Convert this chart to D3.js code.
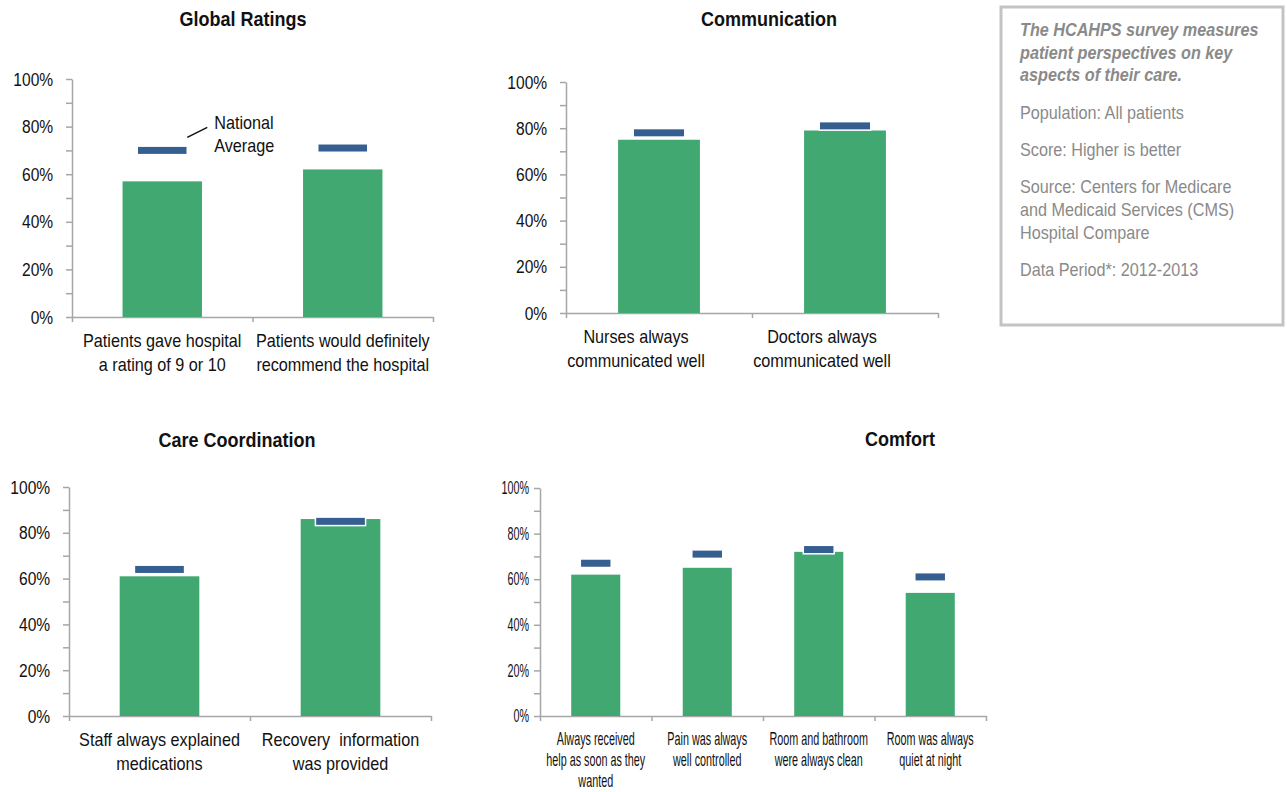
<!DOCTYPE html>
<html lang="en">
<head>
    <meta charset="UTF-8">
    <title>HCAHPS patient experience</title>
    <script src="https://d3js.org/d3.v7.min.js"></script>
    <style>
        body { margin: 0; background: #fff; }
        svg text { font-family: "Liberation Sans", Arial, sans-serif; }
        .axis path, .axis line { stroke: #a6a6a6; stroke-width: 1.5px; }
        .axis text { fill: #111; }
        .title { font-weight: bold; fill: #111; }
        .info { fill: #8a8a8a; }
    </style>
</head>
<body>
<svg id="chart" width="1287" height="792"></svg>
<script>
    // data (percent)
    const yTicks = [0, 10, 20, 30, 40, 50, 60, 70, 80, 90, 100];

    const globalCats = [["Patients gave hospital", "a rating of 9 or 10"], ["Patients would definitely", "recommend the hospital"]];
    const globalValues = [57, 62];
    const globalNational = [70, 71];

    const commCats = [["Nurses always", "communicated well"], ["Doctors always", "communicated well"]];
    const commValues = [75, 79];
    const commNational = [78, 81];

    const careCats = [["Staff always explained", "medications"], ["Recovery  information", "was provided"]];
    const careValues = [61, 86];
    const careNational = [64, 85];

    const comfortCats = [["Always received", "help as soon as they", "wanted"], ["Pain was always", "well controlled"],
        ["Room and bathroom", "were always clean"], ["Room was always", "quiet at night"]];
    const comfortValues = [62, 65, 72, 54];
    const comfortNational = [67, 71, 73, 61];

    const infoLines = [
        { t: "The HCAHPS survey measures", y: 36, em: true },
        { t: "patient perspectives on key", y: 59, em: true },
        { t: "aspects of their care.", y: 81, em: true },
        { t: "Population: All patients", y: 119 },
        { t: "Score: Higher is better", y: 156 },
        { t: "Source: Centers for Medicare", y: 193 },
        { t: "and Medicaid Services (CMS)", y: 216 },
        { t: "Hospital Compare", y: 239 },
        { t: "Data Period*: 2012-2013", y: 276 }
    ];

    const GREEN = "#41a872", BLUE = "#365f91";
    const svg = d3.select("#chart");

    // text squeezed horizontally like the source image
    function stext(parent, x, y, str, size, sx, anchor) {
        return parent.append("g")
            .attr("transform", `translate(${x},${y}) scale(${sx},1)`)
            .append("text")
            .attr("text-anchor", anchor || "middle")
            .style("font-size", size + "px")
            .style("white-space", "pre")
            .text(str);
    }

    function panel(cfg) {
        const g = svg.append("g");
        const n = cfg.cats.length;
        const y = d3.scaleLinear().domain([0, 100]).range([cfg.yBot, cfg.yTop]);
        const x = d3.scaleBand().domain(d3.range(n)).range([cfg.x0, cfg.x1])
            .paddingInner(0.56).paddingOuter(0.28);
        const xb = d3.scaleLinear().domain([0, n]).range([cfg.x0, cfg.x1]);

        // y axis
        const ya = g.append("g").attr("class", "axis")
            .attr("transform", `translate(${cfg.x0},0)`)
            .call(d3.axisLeft(y).tickValues(yTicks).tickSize(6).tickSizeOuter(0)
                .tickPadding(cfg.yPad)
                .tickFormat(d => d % 20 === 0 ? d + "%" : ""));
        ya.selectAll("text")
            .style("font-size", cfg.yFont + "px")
            .attr("transform", `scale(${cfg.ysx},1)`);

        // x axis (ticks at category boundaries)
        g.append("g").attr("class", "axis")
            .attr("transform", `translate(0,${cfg.yBot})`)
            .call(d3.axisBottom(xb).tickValues(d3.range(n + 1)).tickSize(5).tickSizeOuter(0).tickFormat(""));

        // bars
        g.selectAll("rect.bar").data(cfg.values).join("rect")
            .attr("class", "bar")
            .attr("x", (d, i) => x(i))
            .attr("width", x.bandwidth())
            .attr("y", d => y(d))
            .attr("height", d => y(0) - y(d))
            .attr("fill", GREEN);

        // national average markers
        const mw = x.bandwidth() * 0.63, mh = 8.5;
        g.selectAll("rect.nat").data(cfg.national).join("rect")
            .attr("class", "nat")
            .attr("x", (d, i) => x(i) + x.bandwidth() / 2 - mw / 2)
            .attr("y", d => y(d) - mh / 2)
            .attr("width", mw)
            .attr("height", mh)
            .attr("fill", BLUE)
            .attr("stroke", "#fff")
            .attr("stroke-width", 1.5);

        // category labels
        const lh = cfg.lineH || 23.5, dx = cfg.labelDx || 0, top = cfg.labelTop || 30;
        cfg.cats.forEach((lines, i) => {
            const cx = x(i) + x.bandwidth() / 2 + dx;
            lines.forEach((ln, j) => {
                stext(g, cx, cfg.yBot + top + j * lh, ln, 18, cfg.xsx).attr("fill", "#111");
            });
        });

        stext(g, cfg.titleX, cfg.titleY, cfg.title, 20, 0.9).attr("class", "title");

        if (cfg.callout) {
            const x1 = x(0) + x.bandwidth() / 2 + mw / 2;
            const y1 = y(cfg.national[0]) - 13;
            g.append("line")
                .attr("x1", x1).attr("y1", y1)
                .attr("x2", x1 + 20).attr("y2", y1 - 10)
                .attr("stroke", "#111").attr("stroke-width", 1.5);
            stext(g, x1 + 27, y1 - 8, "National", 18, 0.9, "start").attr("fill", "#111");
            stext(g, x1 + 27, y1 + 15, "Average", 18, 0.9, "start").attr("fill", "#111");
        }
    }

    panel({ title: "Global Ratings", titleX: 243, titleY: 26, cats: globalCats, values: globalValues,
        national: globalNational, x0: 72, x1: 433, yTop: 79, yBot: 317,
        yFont: 19, ysx: 0.82, yPad: 17, xsx: 0.9, callout: true });
    panel({ title: "Communication", titleX: 769, titleY: 26, cats: commCats, values: commValues,
        national: commNational, x0: 566, x1: 938, yTop: 82, yBot: 313,
        yFont: 19, ysx: 0.82, yPad: 17, xsx: 0.9, labelDx: -23 });
    panel({ title: "Care Coordination", titleX: 237, titleY: 447, cats: careCats, values: careValues,
        national: careNational, x0: 69, x1: 431, yTop: 487, yBot: 716,
        yFont: 19, ysx: 0.82, yPad: 17, xsx: 0.9 });
    panel({ title: "Comfort", titleX: 900, titleY: 446, cats: comfortCats, values: comfortValues,
        national: comfortNational, x0: 540, x1: 986, yTop: 488, yBot: 716,
        yFont: 18, ysx: 0.6, yPad: 12, xsx: 0.6, lineH: 21, labelTop: 29 });

    // info box
    svg.append("rect")
        .attr("x", 1001).attr("y", 7).attr("width", 282).attr("height", 318)
        .attr("fill", "#fff").attr("stroke", "#c3c3c3").attr("stroke-width", 3);
    infoLines.forEach(d => {
        const t = stext(svg, 1020, d.y, d.t, 18, 0.9, "start").attr("class", "info");
        if (d.em) t.style("font-weight", "bold").style("font-style", "italic").attr("fill", "#7f7f7f");
    });
</script>
</body>
</html>
